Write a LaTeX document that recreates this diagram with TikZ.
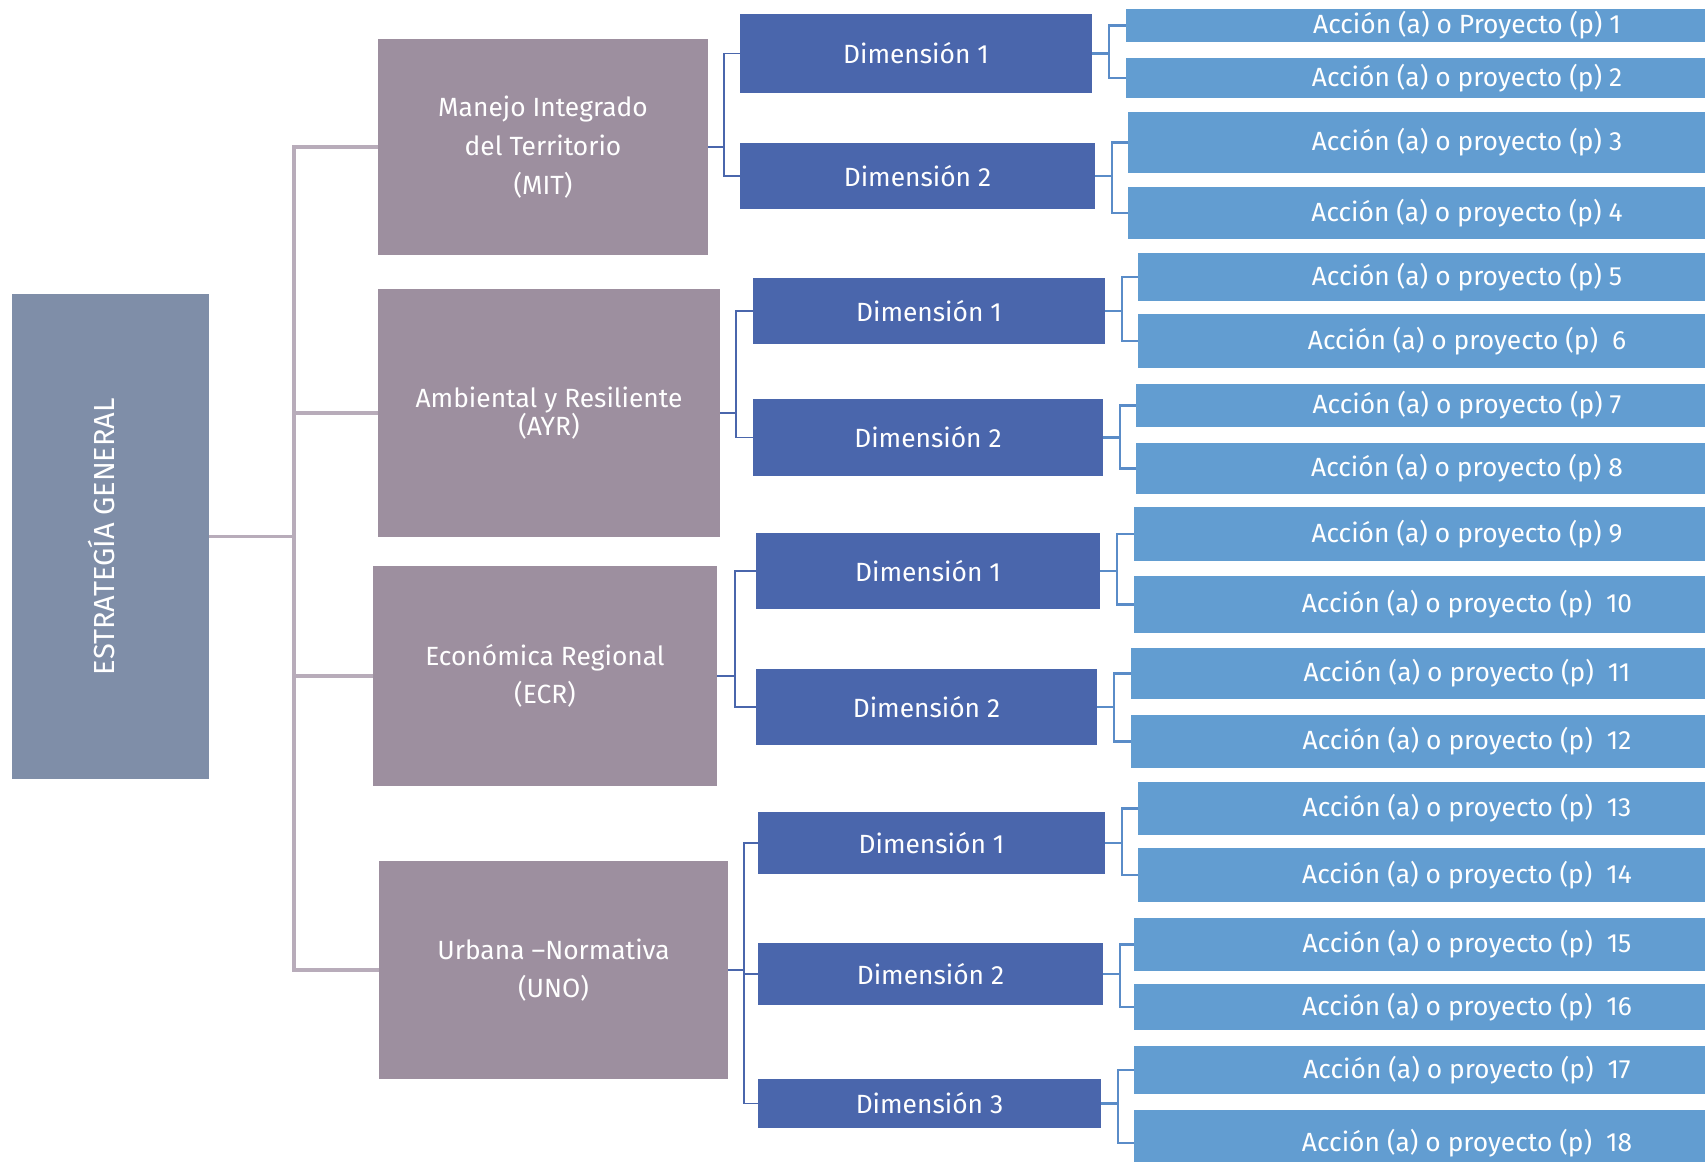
\documentclass[tikz,border=0pt]{standalone}
\usepackage{fontspec}
\setmainfont{Fira Sans}
\usetikzlibrary{positioning,calc}

\definecolor{egcol}{HTML}{7F8EA8}
\definecolor{catcol}{HTML}{9D8F9F}
\definecolor{dimcol}{HTML}{4A66AC}
\definecolor{actcol}{HTML}{629DD1}
\definecolor{trunkcol}{HTML}{B8ACBA}
\definecolor{actlinecol}{HTML}{5A8CC8}

\begin{document}
\begin{tikzpicture}[x=0.02cm, y=-0.02cm,
    cell/.style n args={4}{at={({(#1+#3)/2},{(#2+#4)/2})},
        minimum width={(#3-#1)*0.02cm}, minimum height={(#4-#2)*0.02cm}},
    box/.style={inner sep=0pt, outer sep=0pt, text=white, align=center,
        anchor=center, font=\fontsize{15}{22}\selectfont},
    egbox/.style={box, fill=egcol},
    catbox/.style={box, fill=catcol},
    dimbox/.style={box, fill=dimcol},
    actbox/.style={box, fill=actcol},
    trunk/.style={trunkcol, line width=1.9pt},
    dimline/.style={dimcol, line width=1.1pt},
    actline/.style={actlinecol, line width=1.2pt}]
        % Offsets of the brackets
        \pgfmathsetmacro{\trunkgap}{85}
        \pgfmathsetmacro{\dimgap}{16}
        \pgfmathsetmacro{\actgap}{17}
        \useasboundingbox (0,0) rectangle (1705,1162);

        % General strategy
        \node[egbox, cell={12}{294}{209}{779}] (eg) {};
        \node[text=white, rotate=90, font=\fontsize{16.5}{18}\selectfont]
            (egtext) at ([xshift=-5]eg.center) {ESTRATEGÍA GENERAL};

        % The four lines
        \node[catbox, cell={378}{39}{708}{255}] (mit)
            {Manejo Integrado\\del Territorio\\(MIT)};
        \node[catbox, cell={378}{289}{720}{537},
            font=\fontsize{15}{16}\selectfont] (ayr)
            {Ambiental y Resiliente\\(AYR)};
        \node[catbox, cell={373}{566}{717}{786}] (ecr)
            {Económica Regional\\(ECR)};
        \node[catbox, cell={379}{861}{728}{1079}] (uno)
            {Urbana –Normativa\\(UNO)};

        % Dimensions
        \node[dimbox, cell={740}{14}{1092}{93}] (mitA) {Dimensión 1};
        \node[dimbox, cell={740}{143}{1095}{209}] (mitB) {Dimensión 2};
        \node[dimbox, cell={753}{278}{1105}{344}] (ayrA) {Dimensión 1};
        \node[dimbox, cell={753}{399}{1103}{476}] (ayrB) {Dimensión 2};
        \node[dimbox, cell={756}{533}{1100}{609}] (ecrA) {Dimensión 1};
        \node[dimbox, cell={756}{669}{1097}{745}] (ecrB) {Dimensión 2};
        \node[dimbox, cell={758}{812}{1105}{874}] (unoA) {Dimensión 1};
        \node[dimbox, cell={758}{943}{1103}{1005}] (unoB) {Dimensión 2};
        \node[dimbox, cell={758}{1079}{1101}{1128}] (unoC) {Dimensión 3};

        % Actions and projects, cut by the right edge
        \node[actbox, cell={1126}{9}{1808}{42}] (a1) {Acción (a) o Proyecto (p) 1};
        \node[actbox, cell={1126}{58}{1808}{98}] (a2) {Acción (a) o proyecto (p) 2};
        \node[actbox, cell={1128}{112}{1806}{173}] (a3) {Acción (a) o proyecto (p) 3};
        \node[actbox, cell={1128}{187}{1806}{239}] (a4) {Acción (a) o proyecto (p) 4};
        \node[actbox, cell={1138}{253}{1796}{301}] (a5) {Acción (a) o proyecto (p) 5};
        \node[actbox, cell={1138}{314}{1796}{368}] (a6) {Acción (a) o proyecto (p)~ 6};
        \node[actbox, cell={1136}{384}{1798}{427}] (a7) {Acción (a) o proyecto (p) 7};
        \node[actbox, cell={1136}{443}{1798}{494}] (a8) {Acción (a) o proyecto (p) 8};
        \node[actbox, cell={1134}{507}{1800}{561}] (a9) {Acción (a) o proyecto (p) 9};
        \node[actbox, cell={1134}{576}{1800}{633}] (a10) {Acción (a) o proyecto (p)~ 10};
        \node[actbox, cell={1131}{648}{1803}{699}] (a11) {Acción (a) o proyecto (p)~ 11};
        \node[actbox, cell={1131}{715}{1803}{768}] (a12) {Acción (a) o proyecto (p)~ 12};
        \node[actbox, cell={1138}{782}{1796}{835}] (a13) {Acción (a) o proyecto (p)~ 13};
        \node[actbox, cell={1138}{848}{1796}{902}] (a14) {Acción (a) o proyecto (p)~ 14};
        \node[actbox, cell={1134}{918}{1800}{971}] (a15) {Acción (a) o proyecto (p)~ 15};
        \node[actbox, cell={1134}{984}{1800}{1030}] (a16) {Acción (a) o proyecto (p)~ 16};
        \node[actbox, cell={1134}{1046}{1800}{1094}] (a17) {Acción (a) o proyecto (p)~ 17};
        \node[actbox, cell={1134}{1110}{1800}{1176}] (a18) {Acción (a) o proyecto (p)~ 18};

        % Trunk from the general strategy
        \begin{scope}[trunk]
            \draw (eg.east) -- ++(\trunkgap,0) |- (mit.west);
            \draw (eg.east) -- ++(\trunkgap,0) |- (ayr.west);
            \draw (eg.east) -- ++(\trunkgap,0) |- (ecr.west);
            \draw (eg.east) -- ++(\trunkgap,0) |- (uno.west);
        \end{scope}

        % Brackets to the dimensions
        \begin{scope}[dimline]
            \draw (mit.east) -- ++(\dimgap,0) |- (mitA.west);
            \draw (mit.east) -- ++(\dimgap,0) |- (mitB.west);
            \draw (ayr.east) -- ++(\dimgap,0) |- (ayrA.west);
            \draw (ayr.east) -- ++(\dimgap,0) |- (ayrB.west);
            \draw (ecr.east) -- ++(\dimgap+2,0) |- (ecrA.west);
            \draw (ecr.east) -- ++(\dimgap+2,0) |- (ecrB.west);
            \draw (uno.east) -- ++(\dimgap,0) |- (unoA.west);
            \draw (uno.east) -- ++(\dimgap,0) |- (unoB.west);
            \draw (uno.east) -- ++(\dimgap,0) |- (unoC.west);
        \end{scope}

        % Brackets to the actions
        \begin{scope}[actline]
            \draw (mitA.east) -- ++(\actgap,0) |- (a1.west);
            \draw (mitA.east) -- ++(\actgap,0) |- (a2.west);
            \draw (mitB.east) -- ++(\actgap,0) |- (a3.west);
            \draw (mitB.east) -- ++(\actgap,0) |- (a4.west);
            \draw (ayrA.east) -- ++(\actgap,0) |- (a5.west);
            \draw (ayrA.east) -- ++(\actgap,0) |- (a6.west);
            \draw (ayrB.east) -- ++(\actgap,0) |- (a7.west);
            \draw (ayrB.east) -- ++(\actgap,0) |- (a8.west);
            \draw (ecrA.east) -- ++(\actgap,0) |- (a9.west);
            \draw (ecrA.east) -- ++(\actgap,0) |- (a10.west);
            \draw (ecrB.east) -- ++(\actgap,0) |- (a11.west);
            \draw (ecrB.east) -- ++(\actgap,0) |- (a12.west);
            \draw (unoA.east) -- ++(\actgap,0) |- (a13.west);
            \draw (unoA.east) -- ++(\actgap,0) |- (a14.west);
            \draw (unoB.east) -- ++(\actgap,0) |- (a15.west);
            \draw (unoB.east) -- ++(\actgap,0) |- (a16.west);
            \draw (unoC.east) -- ++(\actgap,0) |- (a17.west);
            \draw (unoC.east) -- ++(\actgap,0) |- (a18.west);
        \end{scope}

\end{tikzpicture}
\end{document}
